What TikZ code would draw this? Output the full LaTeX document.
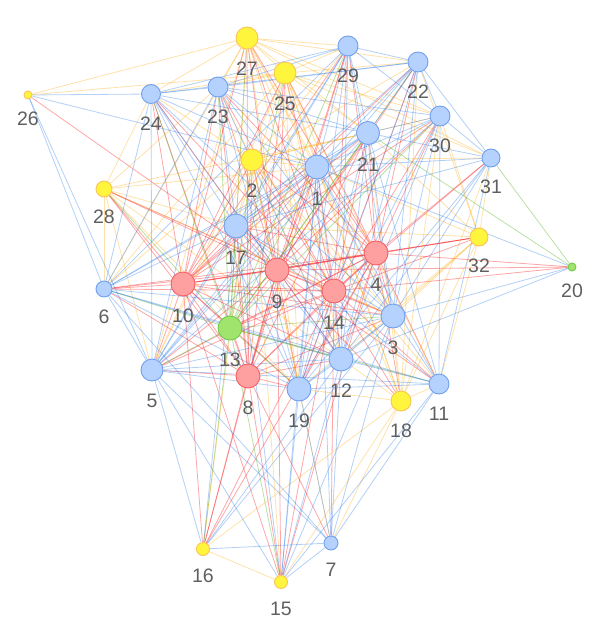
\documentclass[tikz,border=0pt]{standalone}
\usepackage{fontspec}
\setmainfont{Liberation Sans}
\definecolor{nbF}{RGB}{180,210,253}
\definecolor{nbD}{RGB}{112,160,238}
\definecolor{nrF}{RGB}{255,160,160}
\definecolor{nrD}{RGB}{245,95,100}
\definecolor{nyF}{RGB}{255,245,60}
\definecolor{nyD}{RGB}{250,195,90}
\definecolor{ngF}{RGB}{160,228,110}
\definecolor{ngD}{RGB}{115,200,75}
\definecolor{eB}{RGB}{43,124,233}
\definecolor{eR}{RGB}{250,10,16}
\definecolor{eY}{RGB}{255,165,0}
\definecolor{eG}{RGB}{65,169,6}
\definecolor{labc}{RGB}{95,95,95}
\pgfdeclarelayer{bg}
\pgfsetlayers{bg,main}
\tikzset{
  nd/.style={circle,inner sep=0pt,line width=0.9pt},
  nb/.style={nd,fill=nbF,draw=nbD},
  nr/.style={nd,fill=nrF,draw=nrD},
  ny/.style={nd,fill=nyF,draw=nyD},
  ng/.style={nd,fill=ngF,draw=ngD},
  lab/.style={inner sep=0pt,anchor=north,text=labc,font=\fontsize{19.5}{20}\selectfont},
  eb/.style={draw=eB,draw opacity=0.36,line width=0.8pt},
  er/.style={draw=eR,draw opacity=0.36,line width=0.8pt},
  ey/.style={draw=eY,draw opacity=0.33,line width=0.8pt},
  eg/.style={draw=eG,draw opacity=0.36,line width=0.8pt}
}
\begin{document}
\begin{tikzpicture}[x=1pt,y=-1pt]
\useasboundingbox (0,0) rectangle (609,640);
\foreach \i/\x/\y/\r/\c in {
 1/317/167/12/nb, 2/252/160/11/ny, 3/393/316/12/nb, 4/376/253/12/nr,
 5/152/370/11/nb, 6/104/289/8/nb, 7/331/543/7/nb, 8/248/376/12/nr,
 9/277/270/12/nr, 10/183/284/12/nr, 11/439/384/10/nb, 12/341/359/12/nb,
 13/230/328/12/ng, 14/334/291/12/nr, 15/281/582/6.5/ny, 16/203/549/6.5/ny,
 17/236/226/12/nb, 18/401/401/10/ny, 19/299/389/12/nb, 20/572/267/4/ng,
 21/368/133/11.5/nb, 22/418/62/10/nb, 23/218/87/10/nb, 24/151/94/9.5/nb,
 25/285/73/11/ny, 26/28/95/4/ny, 27/247/38/11/ny, 28/104/189/8/ny,
 29/348/46/10/nb, 30/440/116/10/nb, 31/491/158/9/nb, 32/479/237/9/ny}
{
  \node[\c, minimum size={2*\r*1pt}] (n\i) at (\x,\y) {};
  \node[lab] (l\i) at (\x,\y+\r+13) {\i};
}
\begin{pgfonlayer}{bg}
% red edges
\foreach \b in {1,2,3,5,6,9,10,11,12,13,15,16,17,18,19,20,21,22,23,25,27,29,30,31,32} \draw[er] (n4) -- (n\b);
\foreach \b in {1,2,3,4,5,6,7,9,10,12,13,14,15,16,17,19,21,23,24,25,27,28,29} \draw[er] (n8) -- (n\b);
\foreach \b in {1,2,3,5,6,10,11,12,13,14,15,16,17,18,19,20,21,22,23,24,25,26,27,28,29,30,32} \draw[er] (n9) -- (n\b);
\foreach \b in {1,2,3,5,6,12,13,14,15,16,17,19,21,22,23,24,25,27,28,29,30,32} \draw[er] (n10) -- (n\b);
\foreach \b in {1,2,3,4,5,6,7,11,12,13,15,16,17,18,19,20,21,22,23,24,25,27,28,29,30,31,32} \draw[er] (n14) -- (n\b);
% green edges
\foreach \b in {1,2,3,5,6,11,12,15,16,17,19,21,22,23,24,25,27,28,29,30} \draw[eg] (n13) -- (n\b);
\foreach \b in {21,31} \draw[eg] (n20) -- (n\b);
% yellow edges
\foreach \b in {1,3,5,6,7,11,12,15,16,17,19,21,22,23,24,29,30,31} \draw[ey] (n2) -- (n\b);
\foreach \b in {1,3,5,6,11,12,17,19,21,22,23,24,26,27,29,30,31} \draw[ey] (n25) -- (n\b);
\foreach \b in {1,3,5,6,12,17,19,21,22,23,24,26,29,30,31} \draw[ey] (n27) -- (n\b);
\foreach \b in {1,3,5,6,12,17,19,21,23,24} \draw[ey] (n28) -- (n\b);
\foreach \b in {1,3,7,11,12,15,16,19,21,22,25,27,30,31,32} \draw[ey] (n18) -- (n\b);
\foreach \b in {1,3,11,12,17,19,21,22,30,31} \draw[ey] (n32) -- (n\b);
\foreach \b in {15} \draw[ey] (n16) -- (n\b);
% blue edges
\foreach \b in {3,5,6,7,11,12,15,17,19,20,21,22,23,24,26,29,30,31} \draw[eb] (n1) -- (n\b);
\foreach \b in {3,5,6,11,12,15,16,19,21,22,23,24,29,30,31} \draw[eb] (n17) -- (n\b);
\foreach \b in {5,6,7,11,12,15,16,19,20,21,22,23,24,29,30,31} \draw[eb] (n3) -- (n\b);
\foreach \b in {5,6,7,11,15,16,19,20,21,22,23,24,29,30,31} \draw[eb] (n12) -- (n\b);
\foreach \b in {5,6,7,11,15,21,22,23,24,29,30,31} \draw[eb] (n19) -- (n\b);
\foreach \b in {5,6,11,22,23,24,29,30,31} \draw[eb] (n21) -- (n\b);
\foreach \b in {6,7,11,15,16,22,23,24,26,29,30} \draw[eb] (n5) -- (n\b);
\foreach \b in {7,11,23,24,26,29} \draw[eb] (n6) -- (n\b);
\foreach \b in {22,23,26,29} \draw[eb] (n24) -- (n\b);
\foreach \b in {22,29,30} \draw[eb] (n23) -- (n\b);
\foreach \b in {22,30} \draw[eb] (n29) -- (n\b);
\foreach \b in {30,31} \draw[eb] (n22) -- (n\b);
\foreach \b in {31} \draw[eb] (n30) -- (n\b);
\foreach \b in {7,15,30,31} \draw[eb] (n11) -- (n\b);
\foreach \b in {15,16} \draw[eb] (n7) -- (n\b);
\end{pgfonlayer}
\end{tikzpicture}
\end{document}
